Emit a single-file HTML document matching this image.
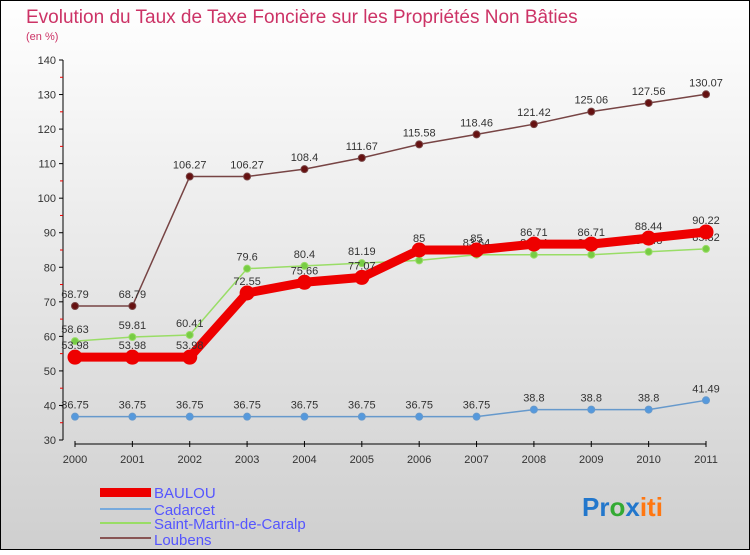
<!DOCTYPE html>
<html><head><meta charset="utf-8">
<style>
body{margin:0;width:750px;height:550px;overflow:hidden;font-family:"Liberation Sans",sans-serif}
</style></head><body>
<svg id="c" width="750" height="550" viewBox="0 0 750 550">
<defs>
<linearGradient id="bg" x1="0" y1="0" x2="0" y2="1">
<stop offset="0" stop-color="#ffffff"/><stop offset="1" stop-color="#cfcfcf"/>
</linearGradient>
</defs>
<rect x="0.5" y="0.5" width="749" height="549" fill="url(#bg)" stroke="#000"/>
<text x="26" y="23" font-size="19" fill="#cc3366">Evolution du Taux de Taxe Foncière sur les Propriétés Non Bâties</text>
<text x="26" y="40" font-size="11" fill="#cc3366">(en %)</text>
<g id="axes"></g>
<g id="series"></g>
<g id="legend">
<rect x="100" y="488" width="51" height="9" fill="#ee0000"/>
<text x="154" y="498" font-size="15" fill="#5555ff">BAULOU</text>
<rect x="100" y="508" width="51" height="2" fill="#77aadd"/>
<text x="154" y="515" font-size="15" fill="#5555ff">Cadarcet</text>
<rect x="100" y="522" width="51" height="2" fill="#99dd66"/>
<text x="154" y="529" font-size="15" fill="#5555ff">Saint-Martin-de-Caralp</text>
<rect x="100" y="537" width="51" height="2" fill="#885555"/>
<text x="154" y="545" font-size="15" fill="#5555ff">Loubens</text>
</g>
<text x="582" y="516" font-size="26" font-weight="bold"><tspan fill="#2277cc">Pr</tspan><tspan fill="#33aa33">o</tspan><tspan fill="#2277cc">x</tspan><tspan fill="#ff7711">iti</tspan></text>
</svg>
<script>
const years=["2000","2001","2002","2003","2004","2005","2006","2007","2008","2009","2010","2011"];
const yTicks=[30,40,50,60,70,80,90,100,110,120,130,140];
const baulou=[53.98,53.98,53.98,72.55,75.66,77.07,85,85,86.71,86.71,88.44,90.22];
const cadarcet=[36.75,36.75,36.75,36.75,36.75,36.75,36.75,36.75,38.8,38.8,38.8,41.49];
const saintMartin=[58.63,59.81,60.41,79.6,80.4,81.19,82,83.64,83.64,83.64,84.48,85.32];
const loubens=[68.79,68.79,106.27,106.27,108.4,111.67,115.58,118.46,121.42,125.06,127.56,130.07];
const NS="http://www.w3.org/2000/svg";
const X=i=>75+i*(706-75)/11;
const Y=v=>440-(v-30)*(380/110);
function mk(t,a,p){const e=document.createElementNS(NS,t);for(const k in a)e.setAttribute(k,a[k]);p.appendChild(e);return e;}
const ax=document.getElementById('axes');
let l=mk('line',{x1:63,y1:Y(140),x2:63,y2:Y(30),stroke:'#000'},ax);


l=mk('line',{x1:75,y1:Y(30)+4,x2:706,y2:Y(30)+4,stroke:'#000'},ax);


yTicks.forEach(v=>{
  mk('line',{x1:59,y1:Y(v),x2:63,y2:Y(v),stroke:'#000'},ax);
  if(v<140){const m=mk('line',{x1:60,y1:Y(v+5),x2:63,y2:Y(v+5),stroke:'#e00'},ax);}
  const t=mk('text',{x:56,y:Y(v)+4,'font-size':11,'text-anchor':'end',fill:'#333'},ax);
  t.textContent=v;
  
  
});
years.forEach((y,i)=>{
  mk('line',{x1:X(i),y1:Y(30)+1,x2:X(i),y2:Y(30)+7,stroke:'#000'},ax);
  const t=mk('text',{x:X(i),y:Y(30)+23,'font-size':11,'text-anchor':'middle',fill:'#333'},ax);
  t.textContent=y;
  
  
});
const sg=document.getElementById('series');
function series(data,name,color,w,r,dot){
  const g=mk('g',{},sg);
  
  
  const p=mk('polyline',{points:data.map((v,i)=>X(i)+','+Y(v)).join(' '),fill:'none',stroke:color,'stroke-width':w,'stroke-linejoin':'round'},g);
  
  
  data.forEach((v,i)=>{
    const c=mk('circle',{cx:X(i),cy:Y(v),r:r,fill:dot,stroke:color,'stroke-width':1},g);
    
    
    const t=mk('text',{x:X(i),y:Y(v)-8,'font-size':11,'text-anchor':'middle',fill:'#333'},g);
    t.textContent=v;
    
    
  });
}
series(cadarcet,'cadarcet','#6699cc',1.5,3.5,'#5599dd');
series(saintMartin,'saint-martin','#99dd66',1.5,3.5,'#77cc44');
series(loubens,'loubens','#774444',1.5,3.5,'#661111');
series(baulou,'baulou','#ee0000',9,7,'#ee0000');
</script>
</body></html>
